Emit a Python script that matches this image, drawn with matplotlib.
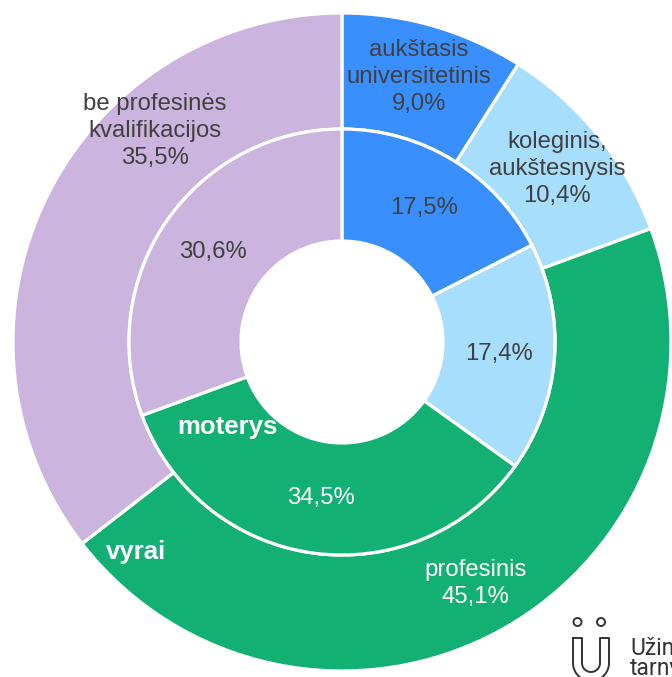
import matplotlib.pyplot as plt
import numpy as np

# outer ring - vyrai, inner ring - moterys
categories = ['aukštasis\nuniversitetinis', 'koleginis,\naukštesnysis',
              'profesinis', 'be profesinės\nkvalifikacijos']
vyrai = [9.0, 10.4, 45.1, 35.5]
moterys = [17.5, 17.4, 34.5, 30.6]
colors = ['#3a8ffe', '#a8defd', '#12b173', '#cbb4de']
outer_text = ['#404040', '#404040', 'white', '#404040']
inner_text = ['#404040', '#404040', 'white', '#404040']

W, H = 672, 677
cx, cy = 342, H - 342
r_out, r_mid, r_in = 329, 213, 101


def fmt(v):
    return f'{v:.1f}%'.replace('.', ',')


def mid_xy(vals, i, r):
    c = np.cumsum([0] + vals)
    a = np.deg2rad(90 - 3.6 * (c[i] + vals[i] / 2))
    return cx + r * np.cos(a), cy + r * np.sin(a)


plt.rcParams['font.family'] = ['Liberation Sans', 'DejaVu Sans']
fig = plt.figure(figsize=(W / 100, H / 100), dpi=100)
ax = fig.add_axes([0, 0, 1, 1])

wp = dict(edgecolor='white', linewidth=2.3)
ax.pie(vyrai, radius=r_out, center=(cx, cy), startangle=90, counterclock=False,
       colors=colors, wedgeprops=dict(width=r_out - r_mid, **wp))
ax.pie(moterys, radius=r_mid, center=(cx, cy), startangle=90, counterclock=False,
       colors=colors, wedgeprops=dict(width=r_mid - r_in, **wp))
ax.set_xlim(0, W)
ax.set_ylim(0, H)
ax.axis('off')

for i, v in enumerate(vyrai):
    x, y = mid_xy(vyrai, i, 276)
    if i == 3:
        x, y = 155, H - 131
    ax.text(x, y, categories[i] + '\n' + fmt(v), ha='center', va='center',
            fontsize=17.2, color=outer_text[i], linespacing=1.3)

for i, v in enumerate(moterys):
    x, y = mid_xy(moterys, i, 157)
    ax.text(x, y, fmt(v), ha='center', va='center', fontsize=17.2,
            color=inner_text[i])

ax.text(227, H - 427, 'moterys', ha='center', va='center', fontsize=18.5,
        fontweight='bold', color='white')
ax.text(136, H - 552, 'vyrai', ha='center', va='center', fontsize=18.5,
        fontweight='bold', color='white')

# logo, cut off by the right and bottom edges like in the original
lc = '#333333'
for x0 in (577.5, 601):
    ax.add_patch(plt.Circle((x0, H - 622), 4, fill=False, ec=lc, lw=1.4))
th = np.linspace(0, np.pi, 40)
xo = np.r_[573, 573, 591 - 18 * np.cos(th), 609, 609, 600, 600,
           591 + 9 * np.cos(th), 582, 582, 573]
yo = np.r_[638, 663, 663 + 18 * np.sin(th), 663, 638, 638, 663,
           663 + 9 * np.sin(th), 663, 638, 638]
ax.plot(xo, H - yo, color=lc, lw=1.4)
ax.text(630, H - 675, 'Užimtumo\ntarnyba', ha='left', va='baseline',
        fontsize=16.5, color=lc, family='Roboto', linespacing=0.85)

fig.savefig('out.png', dpi=100)
